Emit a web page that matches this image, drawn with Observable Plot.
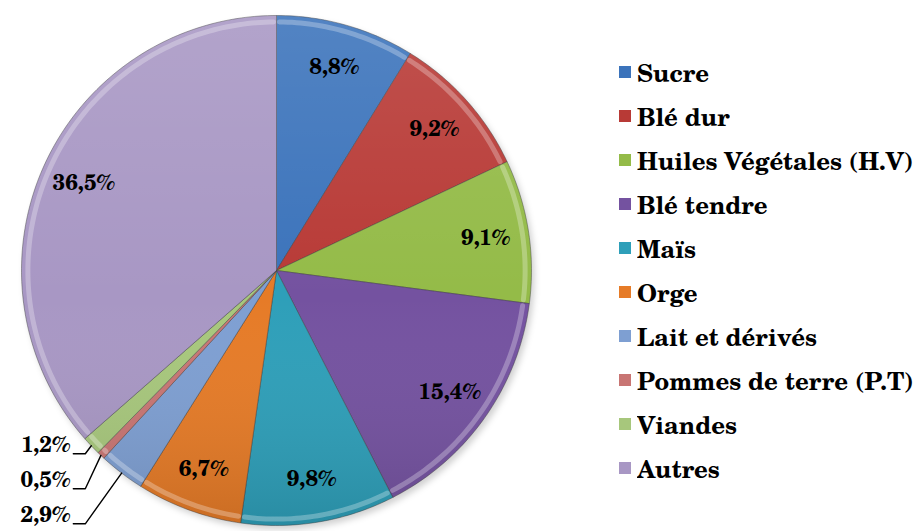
<!DOCTYPE html>
<html><head><meta charset="utf-8">
<script src="https://cdn.jsdelivr.net/npm/d3@7"></script>
<script src="https://cdn.jsdelivr.net/npm/@observablehq/plot@0.6"></script>
<style>
body{margin:0;background:#fff;}
#wrap{position:relative;width:917px;height:531px;overflow:hidden;}
#chart{position:absolute;left:0;top:0;}
#legend{position:absolute;left:619px;top:50px;}
#legend .lg-swatch{display:flex !important;align-items:center !important;height:44px !important;margin:0 !important;padding:0 !important;font-family:'Century Schoolbook','TeX Gyre Schola','C059',serif !important;font-weight:bold !important;font-size:24px !important;color:#000 !important;white-space:nowrap !important;}
#legend .lg-swatch svg{margin-right:6px !important;}
#legend .lg-swatches{font-family:'Century Schoolbook','TeX Gyre Schola','C059',serif !important;font-size:24px !important;}
</style></head><body>
<div id="wrap"><div id="chart"></div><div id="legend"></div></div>
<script>
const categories = ["Sucre","Blé dur","Huiles Végétales (H.V)","Blé tendre","Maïs","Orge","Lait et dérivés","Pommes de terre (P.T)","Viandes","Autres"];
const values = [8.8,9.2,9.1,15.4,9.8,6.7,2.9,0.5,1.2,36.5];
const colors = ["#3b73bb","#b83a36","#94bb48","#7452a0","#2e9fb9","#e67b27","#7e9fd2","#c87573","#a7c77c","#a897c4"];

const FONT = "'Century Schoolbook','TeX Gyre Schola','C059',serif";
const R = 255, CX = 276, CY = 270, PX = 1 / R;
const fmt = v => v.toFixed(1).replace(".", ",") + "%";
const total = d3.sum(values);

let acc = 0;
const slices = values.map((v, i) => {
  const a0 = acc / total * 2 * Math.PI; acc += v;
  const a1 = acc / total * 2 * Math.PI;
  return {cat: categories[i], v, a0, a1, mid: (a0 + a1) / 2, label: fmt(v)};
});

function arcPts(s, r, withCenter) {
  const n = Math.max(2, Math.ceil((s.a1 - s.a0) / (Math.PI / 180)));
  const arr = withCenter ? [{cat: s.cat, x: 0, y: 0}] : [];
  for (let j = 0; j <= n; j++) {
    const a = s.a0 + (s.a1 - s.a0) * j / n;
    arr.push({cat: s.cat, x: r * Math.sin(a), y: r * Math.cos(a)});
  }
  if (withCenter) arr.push({cat: s.cat, x: 0, y: 0});
  return arr;
}
const slicePts = slices.flatMap(s => arcPts(s, 1, true));
const rimPts = slices.flatMap(s => arcPts({...s, a0: s.a0 + 0.012, a1: s.a1 - 0.012}, 0.975, false));
const diskPts = arcPts({cat: "disk", a0: 0, a1: 2 * Math.PI}, 1, false);

const inside = slices.filter(s => s.v >= 3).map(s => ({...s, x: 0.83 * Math.sin(s.mid), y: 0.83 * Math.cos(s.mid)}));
// small slices: labels stacked at lower left with elbow leader lines
const small = slices.filter(s => s.v < 3).reverse();
const anchors = small.map(s => ({x: Math.sin(s.mid), y: Math.cos(s.mid)}));
const elbowX = d3.min(anchors, a => a.x) - 6 * PX;
const baseY = anchors[0].y - 8 * PX;
const outside = small.map((s, i) => {
  const ly = baseY - i * 35 * PX;
  return {...s, ax: anchors[i].x, ay: anchors[i].y, ex: elbowX, ey: ly, tx: elbowX - 15 * PX, ty: ly};
});
const leaders = outside.flatMap(o => [
  {cat: o.cat, x: o.ax, y: o.ay},
  {cat: o.cat, x: o.ex, y: o.ey},
  {cat: o.cat, x: o.tx + 3 * PX, y: o.ey}
]);

const plot = Plot.plot({
  width: 600, height: 531,
  margin: 0,
  x: {domain: [-1, 1], range: [CX - R, CX + R], axis: null},
  y: {domain: [-1, 1], range: [CY + R, CY - R], axis: null},
  color: {domain: categories, range: colors},
  marks: [
    Plot.line(diskPts, {x: "x", y: "y", dx: 3, dy: 4, fill: "#000", fillOpacity: 0.18, stroke: "none", className: "shadow"}),
    Plot.line(slicePts, {x: "x", y: "y", z: "cat", fill: "cat", stroke: "#3a3a3a", strokeOpacity: 0.55, strokeWidth: 0.8, strokeLinejoin: "round"}),
    Plot.line(diskPts, {x: "x", y: "y", fill: "url(#shade)", stroke: "none"}),
    Plot.line(rimPts, {x: "x", y: "y", z: "cat", stroke: "#fff", strokeOpacity: 0.28, strokeWidth: 5, fill: "none"}),
    Plot.text(inside, {x: "x", y: "y", text: "label", fontSize: 22, fontWeight: "bold", fontFamily: FONT, fill: "#000"}),
    Plot.line(leaders, {x: "x", y: "y", z: "cat", stroke: "#000", strokeWidth: 1.4, fill: "none"}),
    Plot.text(outside, {x: "tx", y: "ty", text: "label", textAnchor: "end", dy: -9, fontSize: 22, fontWeight: "bold", fontFamily: FONT, fill: "#000"})
  ]
});

const svg = d3.select(plot);
const defs = svg.insert("defs", ":first-child");
const g = defs.append("linearGradient").attr("id", "shade").attr("x1", 0).attr("y1", 0).attr("x2", 0).attr("y2", 1);
g.append("stop").attr("offset", "0%").attr("stop-color", "#fff").attr("stop-opacity", 0.12);
g.append("stop").attr("offset", "55%").attr("stop-color", "#fff").attr("stop-opacity", 0);
g.append("stop").attr("offset", "100%").attr("stop-color", "#000").attr("stop-opacity", 0.12);
defs.append("filter").attr("id", "blur").attr("x", "-10%").attr("y", "-10%").attr("width", "120%").attr("height", "120%")
  .append("feGaussianBlur").attr("stdDeviation", 3);
svg.selectAll(".shadow path").attr("filter", "url(#blur)");
document.getElementById("chart").appendChild(plot);

const legend = Plot.legend({
  color: {domain: categories, range: colors, legend: "swatches", columns: 1, swatchSize: 12, className: "lg"},
  legend: "swatches", columns: 1, swatchSize: 12, className: "lg"
});
document.getElementById("legend").appendChild(legend);
</script>
</body></html>
